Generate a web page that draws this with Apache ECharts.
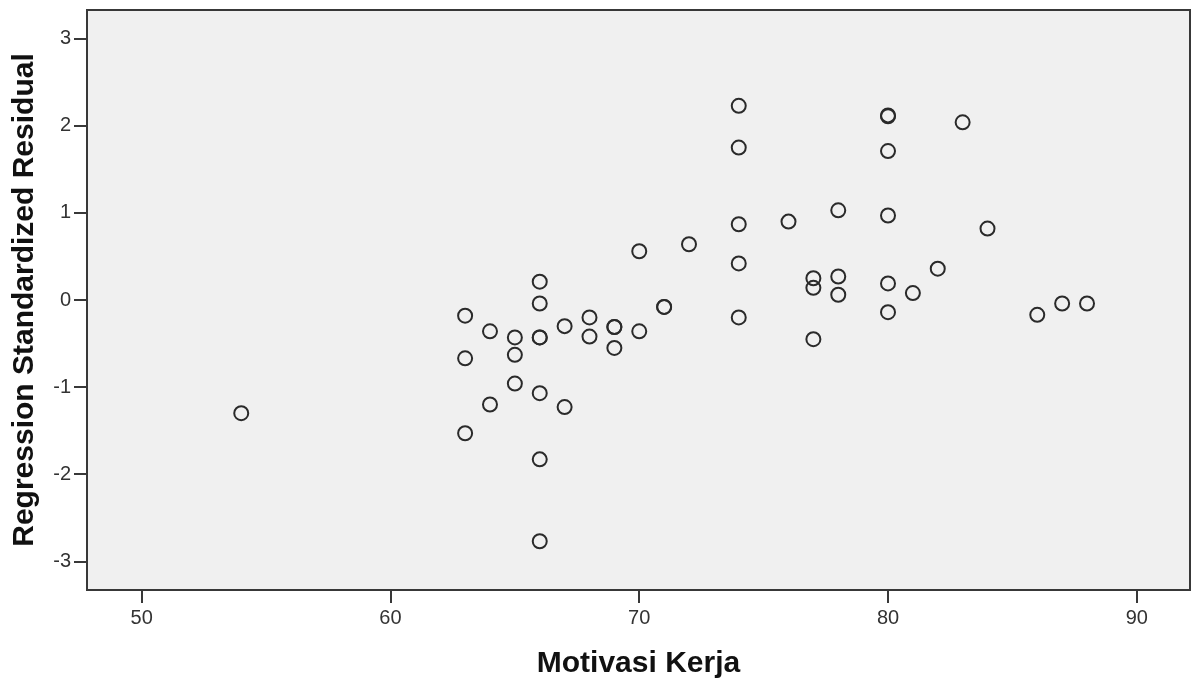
<!DOCTYPE html>
<html>
<head>
<meta charset="utf-8">
<script src="https://cdn.jsdelivr.net/npm/echarts@6/dist/echarts.min.js"></script>
<style>
html,body{margin:0;padding:0;background:#fff;}
#c{width:1192px;height:686px;}
</style>
</head>
<body>
<div id="c"></div>
<script>
// Motivasi Kerja (x) and Regression Standardized Residual (y)
const xValues = [54, 63, 63, 63, 64, 64, 65, 65, 65,
  66, 66, 66, 66, 66, 66, 66, 67, 67, 68, 68, 69, 69, 69,
  70, 70, 71, 71, 72, 74, 74, 74, 74, 74, 76, 77, 77, 77,
  78, 78, 78, 80, 80, 80, 80, 80, 80, 81, 82, 83, 84, 86, 87, 88];
const yValues = [-1.30, -0.18, -0.67, -1.53, -0.36, -1.20, -0.43, -0.63, -0.96,
  0.21, -0.04, -0.43, -0.43, -1.07, -1.83, -2.77, -0.30, -1.23, -0.20, -0.42, -0.31, -0.31, -0.55,
  0.56, -0.36, -0.08, -0.08, 0.64, 2.23, 1.75, 0.87, 0.42, -0.20, 0.90, 0.25, 0.14, -0.45,
  1.03, 0.27, 0.06, 2.12, 2.11, 1.71, 0.97, 0.19, -0.14, 0.08, 0.36, 2.04, 0.82, -0.17, -0.04, -0.04];
const xTicks = [50, 60, 70, 80, 90];
const yTicks = [-3, -2, -1, 0, 1, 2, 3];
const xTitle = 'Motivasi Kerja';
const yTitle = 'Regression Standardized Residual';

const points = xValues.map((x, i) => [x, yValues[i]]);
const chart = echarts.init(document.getElementById('c'), null, {renderer: 'canvas'});
const lineCol = '#383838';
const font = 'Liberation Sans, Arial, sans-serif';
chart.setOption({
  animation: false,
  backgroundColor: '#ffffff',
  grid: {left: 87, top: 10, right: 2, bottom: 96, show: true,
    backgroundColor: '#f0f0f0', borderColor: lineCol, borderWidth: 2},
  xAxis: {
    type: 'value', min: 47.8, max: 92.14,
    name: xTitle, nameLocation: 'middle', nameGap: 59,
    nameTextStyle: {fontFamily: font, fontSize: 30, fontWeight: 'bold', color: '#111'},
    axisLine: {show: true, onZero: false, lineStyle: {color: lineCol, width: 2}},
    axisTick: {show: true, length: 13, customValues: xTicks, lineStyle: {color: lineCol, width: 2}},
    axisLabel: {customValues: xTicks, margin: 18, fontFamily: font, fontSize: 20, color: '#333'},
    splitLine: {show: false}
  },
  yAxis: {
    type: 'value', min: -3.33, max: 3.33,
    name: yTitle, nameLocation: 'middle', nameGap: 47, nameRotate: 90,
    nameTextStyle: {fontFamily: font, fontSize: 30, fontWeight: 'bold', color: '#111'},
    axisLine: {show: true, onZero: false, lineStyle: {color: lineCol, width: 2}},
    axisTick: {show: true, length: 13, customValues: yTicks, lineStyle: {color: lineCol, width: 2}},
    axisLabel: {customValues: yTicks, margin: 16, fontFamily: font, fontSize: 20, color: '#333'},
    splitLine: {show: false}
  },
  series: [{
    type: 'scatter',
    data: points,
    symbol: 'circle',
    symbolSize: 14,
    itemStyle: {color: 'rgba(0,0,0,0)', borderColor: '#2a2a2a', borderWidth: 2, opacity: 1},
    emphasis: {disabled: true}
  }]
});
</script>
</body>
</html>
